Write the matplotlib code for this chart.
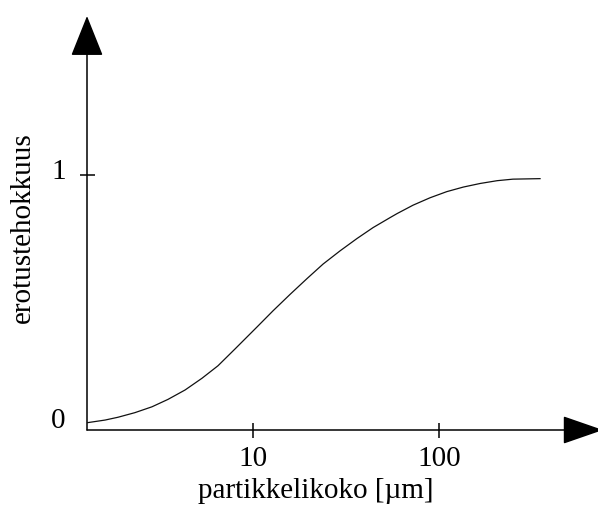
import matplotlib

matplotlib.use("Agg")

import matplotlib.pyplot as plt
from matplotlib.ticker import NullLocator
from matplotlib.transforms import ScaledTranslation

# Separation efficiency curve
particle_size = [
    1.31, 1.62, 1.90, 2.34, 2.89, 3.52, 4.35, 5.36, 6.53, 8.06,
    10.6, 12.9, 15.9, 19.6, 23.9, 29.5, 36.3, 44.3, 54.6, 59.6,
    72.6, 89.5, 110, 135, 166, 205, 249, 348,
]
efficiency = [
    0.029, 0.039, 0.050, 0.068, 0.091, 0.120, 0.157, 0.203, 0.252, 0.318,
    0.405, 0.468, 0.532, 0.594, 0.651, 0.703, 0.751, 0.794, 0.833, 0.849,
    0.882, 0.911, 0.935, 0.953, 0.967, 0.978, 0.984, 0.986,
]

x_ticks = [10, 100]
x_tick_labels = ["10", "100"]
y_ticks = [0, 1]
y_tick_labels = ["0", "1"]

plt.rcParams["font.family"] = ["Liberation Serif", "DejaVu Serif"]

fig = plt.figure(figsize=(5.98, 5.05), dpi=100)
ax = fig.add_axes([87 / 598, 75 / 505, (603 - 87) / 598, (430 - 16) / 505])

# Curve
ax.plot(particle_size, efficiency, color="#111111", linewidth=0.9)

ax.set_xscale("log")
ax.set_xlim(1.296, 757)
ax.set_ylim(0, 1.624)

# Axis lines with arrow heads instead of spines
for spine in ax.spines.values():
    spine.set_visible(False)

ax.annotate(
    "",
    xy=(0, 1),
    xytext=(0, 0),
    xycoords="axes fraction",
    textcoords="axes fraction",
    arrowprops=dict(
        arrowstyle="-|>,head_length=2.6,head_width=1.04",
        mutation_scale=10,
        color="black",
        lw=1.1,
        shrinkA=0,
        shrinkB=0,
    ),
)
ax.annotate(
    "",
    xy=(1, 0),
    xytext=(0, 0),
    xycoords="axes fraction",
    textcoords="axes fraction",
    arrowprops=dict(
        arrowstyle="-|>,head_length=2.6,head_width=0.9",
        mutation_scale=10,
        color="black",
        lw=1.1,
        shrinkA=0,
        shrinkB=0,
    ),
)

# Ticks
ax.xaxis.set_minor_locator(NullLocator())
ax.set_xticks(x_ticks)
ax.set_xticklabels(x_tick_labels)
ax.set_yticks(y_ticks)
ax.set_yticklabels(y_tick_labels)
ax.tick_params(axis="both", direction="inout", length=10.8, width=1.1, labelsize=21, color="black")
ax.tick_params(axis="x", pad=6)
ax.tick_params(axis="y", pad=10)

# No visible tick mark at the origin, labels sit a bit above their ticks
ax.yaxis.get_major_ticks()[0].tick1line.set_visible(False)
for label, shift in zip(ax.get_yticklabels(), [12, 6]):
    label.set_transform(label.get_transform() + ScaledTranslation(0, shift / 100, fig.dpi_scale_trans))

# x label sits right at the bottom edge, kept just inside the picture
ax.set_xlabel("partikkelikoko [µm]", fontsize=21)
ax.xaxis.set_label_coords((316 - 87) / 516, -48 / 414)
ax.set_ylabel("erotustehokkuus", fontsize=21)
ax.yaxis.set_label_coords(-51 / 516, (430 - 228) / 414)

fig.savefig("out.png", dpi=100)
plt.close(fig)
